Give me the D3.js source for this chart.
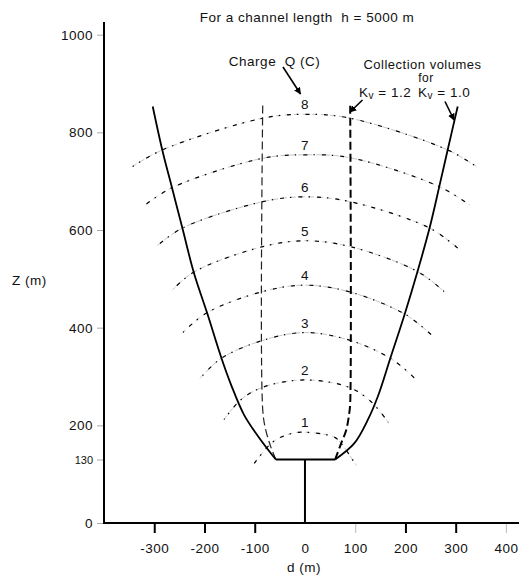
<!DOCTYPE html>
<html>
<head>
<meta charset="utf-8">
<script src="https://cdn.jsdelivr.net/npm/d3@7"></script>
<style>
  body { margin: 0; background: #fff; }
  svg text { font-family: "Liberation Sans", Arial, sans-serif; fill: #111; font-size: 13.5px; letter-spacing: 0.5px; white-space: pre; }
</style>
</head>
<body>
<svg id="chart" width="519" height="581"></svg>
<script>
// tick values
const xTicks = [-300, -200, -100, 0, 100, 200, 300, 400]
const yTicks = [0, 130, 200, 400, 600, 800, 1000]

// charge Q (C) of each contour
const chargeLabels = ["1", "2", "3", "4", "5", "6", "7", "8"]

// contour points [d, z]
const arcQ1 = [[-101, 122], [-64, 166], [-28, 183], [0, 186], [58, 176], [72, 163], [102, 118]]
const arcQ2 = [[-161, 212], [-128, 252], [-84, 278], [0, 293], [90, 277], [133, 247], [166, 206]]
const arcQ3 = [[-209, 296], [-167, 337], [-84, 374], [0, 390], [90, 374], [172, 336], [221, 294]]
const arcQ4 = [[-244, 389], [-196, 430], [-84, 474], [0, 487], [90, 473], [200, 427], [251, 386]]
const arcQ5 = [[-264, 477], [-221, 514], [-84, 566], [0, 578], [90, 566], [224, 515], [277, 474]]
const arcQ6 = [[-294, 568], [-244, 604], [-84, 658], [0, 668], [90, 658], [248, 604], [304, 563]]
const arcQ7 = [[-316, 653], [-264, 687], [-84, 747], [0, 754], [90, 748], [267, 689], [328, 651]]
const arcQ8 = [[-343, 730], [-284, 764], [-84, 829], [0, 837], [90, 829], [284, 764], [341, 730]]
const chargeArcs = [arcQ1, arcQ2, arcQ3, arcQ4, arcQ5, arcQ6, arcQ7, arcQ8]

// collection volume boundary, Kv = 1.0 (solid)
const kv10Left = [[-58, 130], [-88, 170], [-121, 221], [-147, 283], [-166, 337], [-195, 431], [-221, 512], [-244, 604], [-264, 684], [-284, 764], [-303, 853]]
const kv10Right = [[60, 130], [98, 163], [125, 211], [145, 259], [171, 341], [198, 426], [224, 515], [248, 604], [268, 692], [284, 764], [304, 853]]

// collection volume boundary, Kv = 1.2 (dashed)
const kv12Left = [[-58, 130], [-68, 156], [-78, 190], [-84, 231], [-84, 862]]
const kv12Right = [[60, 130], [72, 163], [82, 190], [88, 224], [90, 245], [90, 859]]

// lightning channel tip at 130 m
const channelBase = [[-58, 130], [60, 130]]
const channelStem = [[0, 0], [0, 130]]

const width = 519
const height = 581

const svg = d3.select("#chart")

const x = d3.scaleLinear().domain([-400, 428]).range([104, 520])
const y = d3.scaleLinear().domain([0, 1026]).range([523, 22])

const smooth = d3.line()
  .x(d => x(d[0]))
  .y(d => y(d[1]))
  .curve(d3.curveCatmullRom.alpha(0.5))

const straight = d3.line()
  .x(d => x(d[0]))
  .y(d => y(d[1]))

/* axes */

const yAxis = svg.append("g")
  .attr("transform", `translate(${x(-400)},0)`)
  .call(d3.axisLeft(y).tickValues(yTicks).tickSize(7).tickPadding(4).tickFormat(d => String(d)))

yAxis.select(".domain").remove()
yAxis.selectAll(".tick line").attr("stroke", "#aaa")
yAxis.selectAll(".tick text")
  .attr("fill", "#111")
  .style("font-size", d => d === 130 ? "11px" : "13.5px")
  .style("letter-spacing", d => d === 130 ? "0px" : "0.5px")

const xAxis = svg.append("g")
  .attr("transform", `translate(0,${y(0)})`)
  .call(d3.axisBottom(x).tickValues(xTicks).tickSize(10).tickPadding(10).tickFormat(d => String(d)))

xAxis.select(".domain").remove()
xAxis.selectAll(".tick line")
  .attr("stroke", d => (d === 100 || d === 400) ? "#bbb" : "#000")
  .attr("stroke-width", d => (d === 100 || d === 400) ? 1 : 2)
  .attr("opacity", d => d === 0 ? 0 : 1)
xAxis.selectAll(".tick text").attr("fill", "#111")

// axis lines
svg.append("line")
  .attr("x1", x(-400)).attr("x2", x(-400))
  .attr("y1", y(0) + 1).attr("y2", y(1026))
  .attr("stroke", "#000").attr("stroke-width", 2)

svg.append("line")
  .attr("x1", x(-400)).attr("x2", 519)
  .attr("y1", y(0)).attr("y2", y(0))
  .attr("stroke", "#000").attr("stroke-width", 2)

/* charge contours */

const arcs = svg.append("g").attr("fill", "none")

chargeArcs.forEach((pts, i) => {
  arcs.append("path")
    .attr("d", smooth(pts))
    .attr("stroke", "#c4c4c4")
    .attr("stroke-width", 1)
    .attr("stroke-dasharray", "5,4")
  arcs.append("path")
    .attr("d", smooth(pts))
    .attr("stroke", "#000")
    .attr("stroke-width", 1.2)
    .attr("stroke-dasharray", "4,6,1.5,7")
    .attr("stroke-dashoffset", i * 3)
})

svg.append("g")
  .selectAll("text")
  .data(chargeArcs)
  .join("text")
  .attr("x", x(0))
  .attr("y", d => y(d3.max(d, p => p[1])) - 5)
  .attr("text-anchor", "middle")
  .text((d, i) => chargeLabels[i])

/* collection volumes */

const vols = svg.append("g").attr("fill", "none")

vols.append("path")
  .attr("d", smooth(kv12Left))
  .attr("stroke", "#222")
  .attr("stroke-width", 1.2)
  .attr("stroke-dasharray", "8,4")

vols.append("path")
  .attr("d", smooth(kv12Right))
  .attr("stroke", "#000")
  .attr("stroke-width", 2)
  .attr("stroke-dasharray", "8,4")

vols.append("path")
  .attr("d", smooth(kv10Left))
  .attr("stroke", "#000")
  .attr("stroke-width", 1.8)

vols.append("path")
  .attr("d", smooth(kv10Right))
  .attr("stroke", "#000")
  .attr("stroke-width", 1.8)

vols.append("path")
  .attr("d", straight(channelBase))
  .attr("stroke", "#000")
  .attr("stroke-width", 2)

vols.append("path")
  .attr("d", straight(channelStem))
  .attr("stroke", "#000")
  .attr("stroke-width", 2)

/* labels and arrows */

svg.append("defs").append("marker")
  .attr("id", "head")
  .attr("viewBox", "0 0 10 10")
  .attr("refX", 9).attr("refY", 5)
  .attr("markerWidth", 7).attr("markerHeight", 7)
  .attr("markerUnits", "userSpaceOnUse")
  .attr("orient", "auto")
  .append("path")
  .attr("d", "M0,0L10,5L0,10z")
  .attr("fill", "#000")

const arrows = [
  [283, 67, 300.5, 94],
  [362.5, 100, 350, 112],
  [445, 101.5, 454, 120]
]

svg.append("g")
  .selectAll("line")
  .data(arrows)
  .join("line")
  .attr("x1", d => d[0]).attr("y1", d => d[1])
  .attr("x2", d => d[2]).attr("y2", d => d[3])
  .attr("stroke", "#000")
  .attr("stroke-width", 1.6)
  .attr("marker-end", "url(#head)")

svg.append("text")
  .attr("x", 307).attr("y", 21.5)
  .attr("text-anchor", "middle")
  .text("For a channel length  h = 5000 m")

svg.append("text")
  .attr("x", 274.5).attr("y", 65.5)
  .attr("text-anchor", "middle")
  .text("Charge  Q (C)")

svg.append("text")
  .attr("x", 422.5).attr("y", 69)
  .attr("text-anchor", "middle")
  .style("font-size", "13px")
  .text("Collection volumes")

svg.append("text")
  .attr("x", 426).attr("y", 81.5)
  .attr("text-anchor", "middle")
  .style("font-size", "12px")
  .text("for")

const kvText = (x0, val) => {
  const t = svg.append("text").attr("x", x0).attr("y", 97)
  t.append("tspan").text("K")
  t.append("tspan").attr("dy", 1.5).style("font-size", "10px").text("v")
  t.append("tspan").attr("dy", -1.5).text(" = " + val)
}
kvText(359, "1.2")
kvText(418, "1.0")

svg.append("text")
  .attr("x", 12).attr("y", 285)
  .text("Z (m)")

svg.append("text")
  .attr("x", 304).attr("y", 571.5)
  .attr("text-anchor", "middle")
  .text("d (m)")
</script>
</body>
</html>
